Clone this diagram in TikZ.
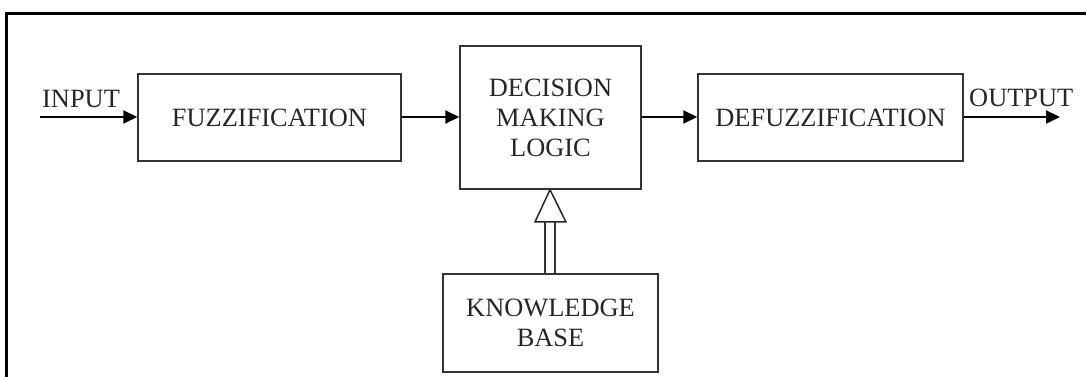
\documentclass[tikz,border=0pt]{standalone}
\usepackage{fontspec}
\setmainfont{Liberation Serif}
\usetikzlibrary{arrows.meta}
\begin{document}
\begin{tikzpicture}[x=1pt,y=1pt,
  blk/.style={draw=black!80, line width=1.5pt, inner sep=0pt, align=center,
    font=\fontsize{26.4}{30}\selectfont, text=black!85},
  lbl/.style={inner sep=0pt, font=\fontsize{26.4}{30}\selectfont, text=black!85},
  arr/.style={line width=2pt, -{Triangle[length=14pt,width=13pt]}},
  frame/.style={line width=3pt, black},
  dbl/.style={draw=black!80, line width=2pt, double=white, double distance=8pt}]
\useasboundingbox (0,0) rectangle (1086,377);
% frame
\draw[frame] (6.5,0) -- (6.5,363) -- (1086,363);
% blocks
\node[blk, minimum width=263pt, minimum height=87pt] (fuzz) at (269.5,259.5) {FUZZIFICATION};
\node[blk, minimum width=181pt, minimum height=143pt] (dml) at (550.5,259.5) {DECISION\\MAKING\\LOGIC};
\node[blk, minimum width=265pt, minimum height=87pt] (defuzz) at (830.5,259.5) {DEFUZZIFICATION};
\node[blk, minimum width=215pt, minimum height=98pt] (kb) at (550.5,54) {KNOWLEDGE\\BASE};
% labels
\node[lbl, anchor=base west] (inlbl) at (42,269) {INPUT};
\node[lbl, anchor=base west] (outlbl) at (969,270) {OUTPUT};
% connectors
\coordinate (in) at (40,260);
\coordinate (out) at (1060,260);
\draw[arr] (in) -- (fuzz.west |- in);
\draw[arr] (fuzz.east |- in) -- (dml.west |- in);
\draw[arr] (dml.east |- in) -- (defuzz.west |- in);
\draw[arr] (defuzz.east |- out) -- (out);
% knowledge base to decision making: double shaft with open triangle
\coordinate (tb) at (550,155);
\draw[dbl] (kb.north -| tb) -- (tb);
\draw[draw=black!85, line width=1.5pt, fill=white, line join=miter]
  (535,155) -- (dml.south -| tb) -- (566,155) -- cycle;
\end{tikzpicture}
\end{document}
